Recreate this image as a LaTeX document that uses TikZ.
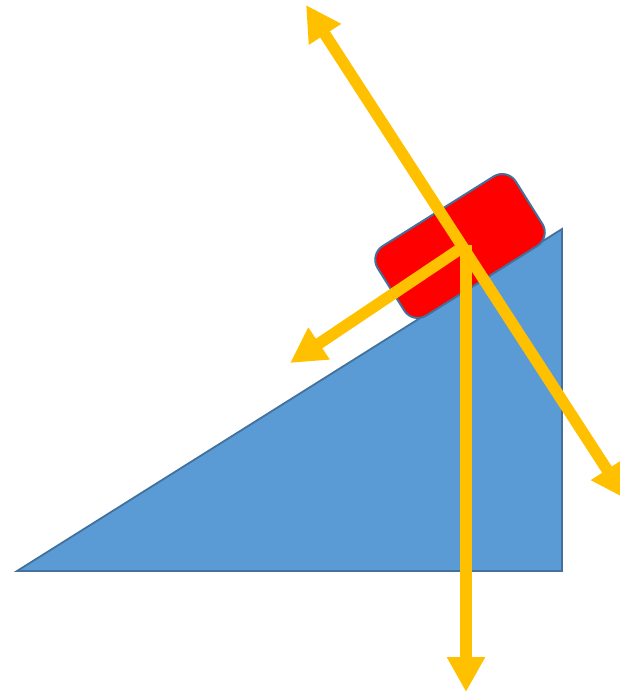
\documentclass[tikz,border=0pt]{standalone}
\usetikzlibrary{arrows.meta}
\definecolor{slopeblue}{HTML}{5B9BD5}
\definecolor{edgeblue}{HTML}{41719C}
\definecolor{forcey}{HTML}{FFC000}
\definecolor{blockred}{HTML}{FF0000}
\tikzset{
  force/.style={draw=forcey, line width=11.5pt, -{Triangle[length=35pt,width=36pt]}},
  twoforce/.style={draw=forcey, line width=11.5pt, {Triangle[length=35pt,width=36pt]}-{Triangle[length=35pt,width=36pt]}},
  slope/.style={fill=slopeblue, draw=edgeblue, line width=1.8pt, line join=miter},
  block/.style={fill=blockred, draw=edgeblue, line width=2pt, rounded corners=16pt, minimum width=163pt, minimum height=82pt, inner sep=0pt}
}
\begin{document}
\begin{tikzpicture}[x=1pt,y=-1pt]
\useasboundingbox (0,0) rectangle (620,693);
\coordinate (A) at (17,571);
\coordinate (B) at (562,571);
\coordinate (C) at (562,229);
\draw[slope] (A) -- (B) -- (C) -- cycle;
\node[block, rotate=32.1] (box) at (460,246) {};
\coordinate (O) at (466,245);
\coordinate (up) at (306,5);
\coordinate (dr) at (626,499);
\coordinate (dn) at (466,692);
\coordinate (lf) at (290,363);
\draw[twoforce] (up) -- (dr);
\draw[force] (O) -- (dn);
\draw[force] (O) -- (lf);
\end{tikzpicture}
\end{document}
